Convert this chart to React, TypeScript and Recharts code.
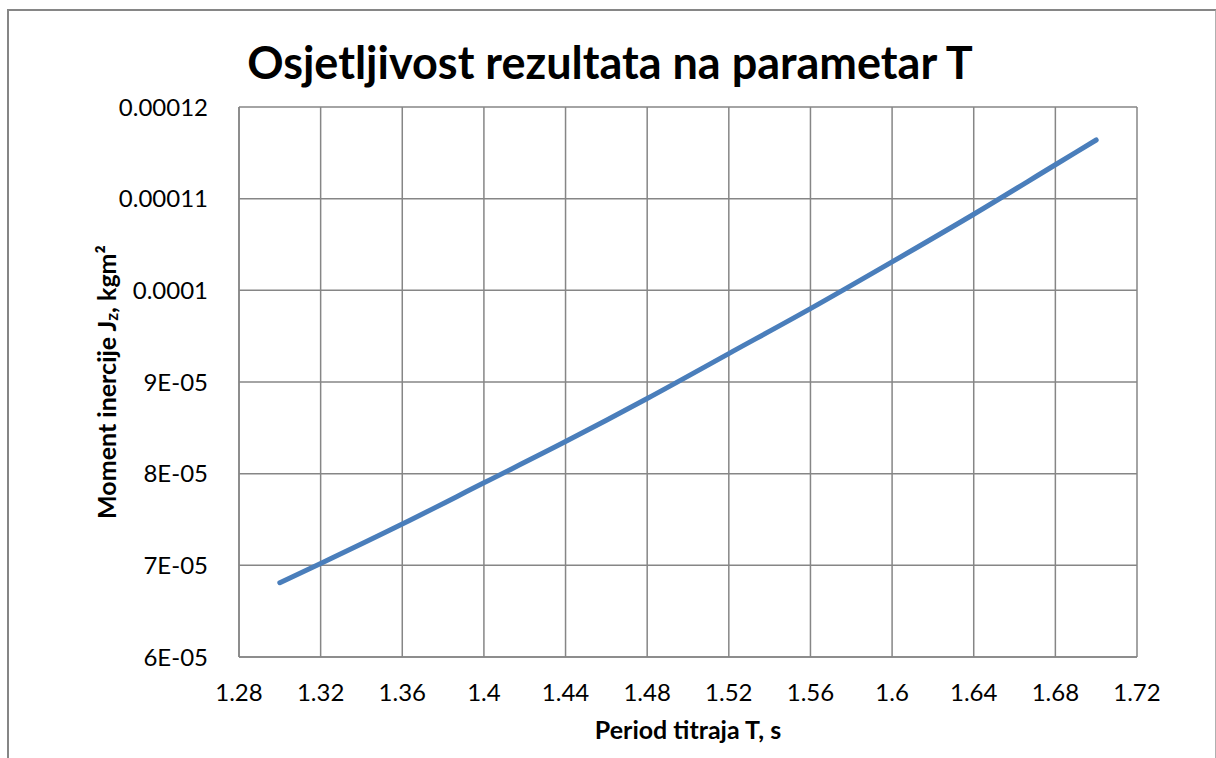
import React from 'react';
import { LineChart, Line, XAxis, YAxis, CartesianGrid, Label } from 'recharts';

const periods = [1.3, 1.32, 1.36, 1.4, 1.44, 1.48, 1.52, 1.56, 1.6, 1.64, 1.68, 1.7];
const inertia = [
  6.81e-5, 7.02e-5, 7.45e-5, 7.9e-5, 8.35e-5, 8.82e-5,
  9.31e-5, 9.8e-5, 1.031e-4, 1.083e-4, 1.137e-4, 1.164e-4,
];

const xTicks = [1.28, 1.32, 1.36, 1.4, 1.44, 1.48, 1.52, 1.56, 1.6, 1.64, 1.68, 1.72];
const xTickLabels = ['1.28', '1.32', '1.36', '1.4', '1.44', '1.48', '1.52', '1.56', '1.6', '1.64', '1.68', '1.72'];
const yTicks = [6e-5, 7e-5, 8e-5, 9e-5, 1e-4, 1.1e-4, 1.2e-4];
const yTickLabels = ['6E-05', '7E-05', '8E-05', '9E-05', '0.0001', '0.00011', '0.00012'];

const data = periods.map((t, i) => ({ t, j: inertia[i] }));

const FONT = 'Lato, "Open Sans", sans-serif';
const GRID = '#868686';

function YLabel(props: any) {
  const vb = props.viewBox || {};
  const cx = 106;
  const cy = vb.y + vb.height / 2;
  return (
    <text
      x={cx}
      y={cy}
      transform={`rotate(-90 ${cx} ${cy})`}
      textAnchor="middle"
      dominantBaseline="central"
      fontFamily={FONT}
      fontWeight="bold"
      fontSize={25}
      fill="#000"
    >
      Moment inercije J
      <tspan fontSize={17} dy={5}>z</tspan>
      <tspan dy={-5}>, kgm²</tspan>
    </text>
  );
}

export default function App() {
  return (
    <div style={{ position: 'absolute', left: 0, top: 0, width: 1216, height: 758, background: '#fff', overflow: 'hidden' }}>
      <div
        style={{
          position: 'absolute',
          left: 7,
          top: 9,
          width: 1206,
          height: 800,
          borderLeft: `2px solid ${GRID}`,
          borderTop: `2px solid ${GRID}`,
          borderRight: '2px solid #b0b0b0',
        }}
      />
      <div
        style={{
          position: 'absolute',
          left: 0,
          top: 34,
          width: 1220,
          textAlign: 'center',
          fontFamily: FONT,
          fontWeight: 'bold',
          fontSize: 45,
          lineHeight: '56px',
          color: '#000',
        }}
      >
        Osjetljivost rezultata na parametar T
      </div>
      <div style={{ position: 'absolute', left: 0, top: 0 }}>
        <LineChart width={1216} height={758} data={data} margin={{ top: 107, right: 79, bottom: 41, left: 109 }}>
          <CartesianGrid stroke={GRID} strokeWidth={1.5} />
          <XAxis
            dataKey="t"
            type="number"
            domain={[1.28, 1.72]}
            ticks={xTicks}
            tickFormatter={(v: number) => xTickLabels[xTicks.findIndex((x) => Math.abs(x - v) < 1e-9)] ?? ''}
            interval={0}
            height={60}
            axisLine={{ stroke: GRID, strokeWidth: 1.5 }}
            tickLine={false}
            tickMargin={21}
            tick={{ fill: '#000', fontFamily: FONT, fontSize: 24 }}
          >
            <Label
              value="Period titraja T, s"
              position="insideBottom"
              offset={-22}
              style={{ fontFamily: FONT, fontWeight: 'bold', fontSize: 25, fill: '#000' }}
            />
          </XAxis>
          <YAxis
            type="number"
            domain={[6e-5, 1.2e-4]}
            ticks={yTicks}
            tickFormatter={(v: number) => yTickLabels[yTicks.findIndex((y) => Math.abs(y - v) < 1e-12)] ?? ''}
            interval={0}
            width={130}
            axisLine={{ stroke: GRID, strokeWidth: 1.5 }}
            tickLine={false}
            tickMargin={25}
            tick={{ fill: '#000', fontFamily: FONT, fontSize: 24 }}
          >
            <Label content={<YLabel />} />
          </YAxis>
          <Line
            type="monotone"
            dataKey="j"
            stroke="#4A7EBB"
            strokeWidth={5}
            strokeLinecap="round"
            dot={false}
            isAnimationActive={false}
          />
        </LineChart>
      </div>
    </div>
  );
}
